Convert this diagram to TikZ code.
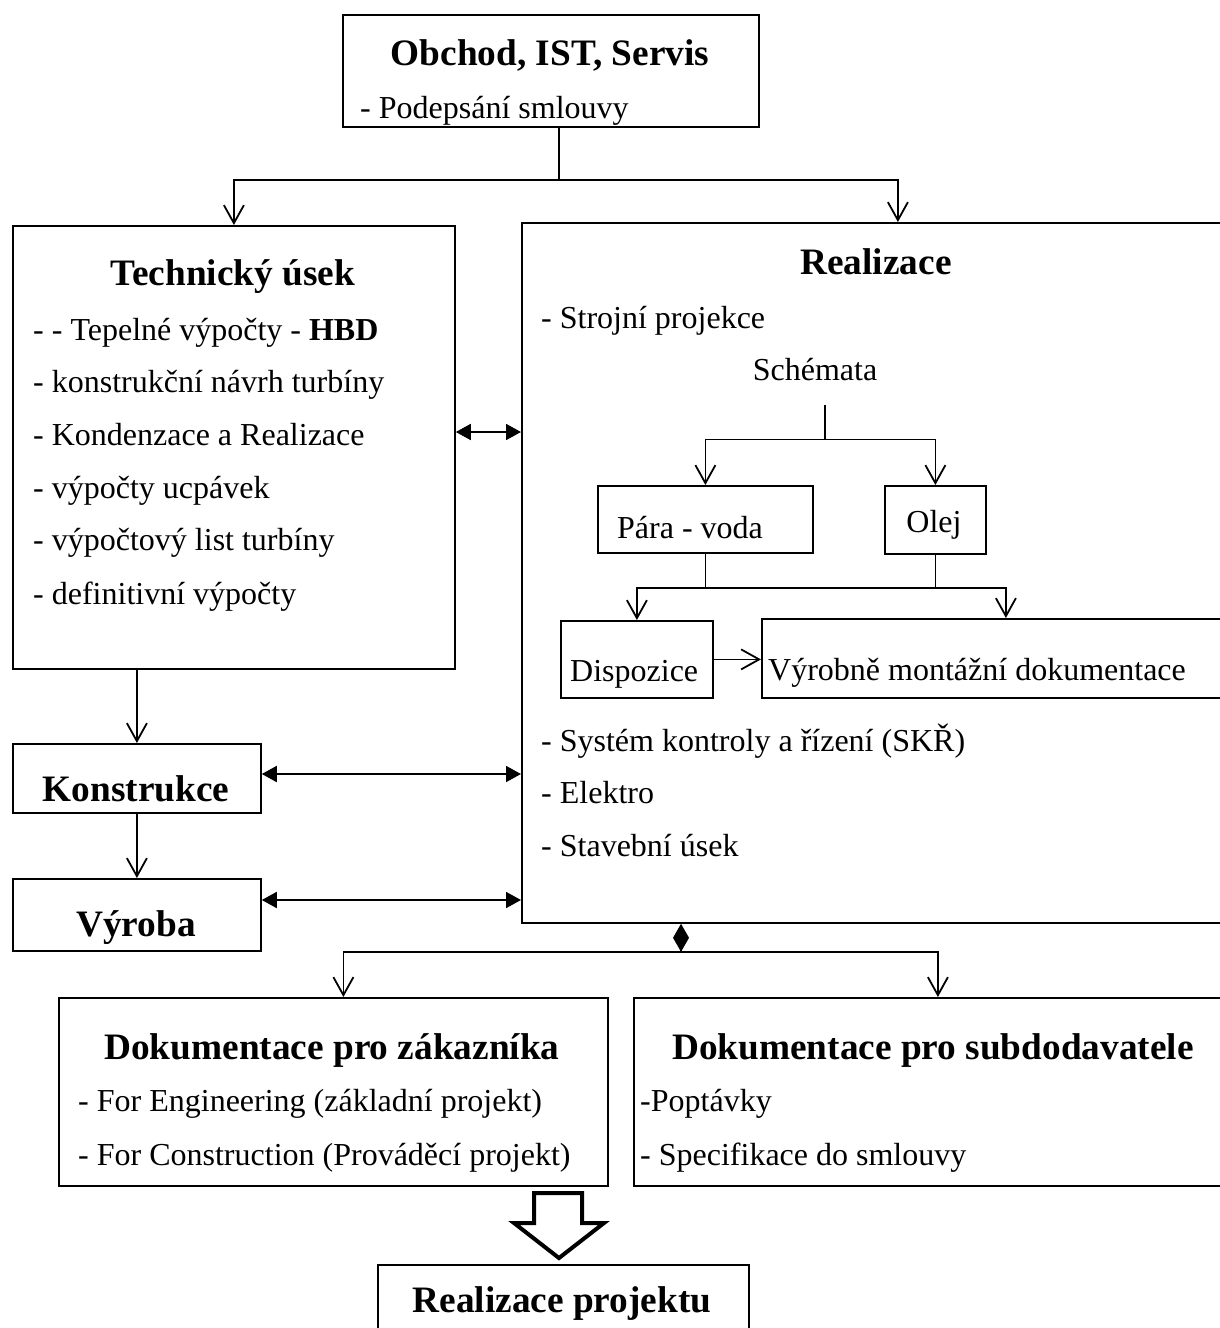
\documentclass[tikz,border=0pt]{standalone}
\usepackage{fontspec}
\setmainfont{Liberation Serif}
\usetikzlibrary{arrows.meta}
\tikzset{
  box/.style={draw, line width=1.8pt, inner sep=0pt, anchor=north west},
  item/.style={font=\fontsize{32}{36}\selectfont, inner sep=0pt, anchor=base west},
  label/.style={item, anchor=base},
  head/.style={font=\fontsize{37.3}{42}\selectfont\bfseries, inner sep=0pt, anchor=base},
  line/.style={line width=1.8pt},
  open/.style={line, -{Straight Barb[length=18pt,width=20pt]}},
  both/.style={line, {Triangle[length=15pt,width=16pt]}-{Triangle[length=15pt,width=16pt]}},
}
\begin{document}
\begin{tikzpicture}[x=1pt,y=-1pt]
            \useasboundingbox (0,0) rectangle (1220,1328);
            \clip (0,0) rectangle (1220,1328);
            % boxes
            \node[box, minimum width=416pt, minimum height=112pt] (obchod) at (342,14) {};
            \node[box, minimum width=442pt, minimum height=443pt] (tech) at (12,225) {};
            \node[box, minimum width=752pt, minimum height=700pt] (real) at (521,222) {};
            \node[box, minimum width=248pt, minimum height=69pt] (kon) at (12,743) {};
            \node[box, minimum width=248pt, minimum height=72pt] (vyr) at (12,878) {};
            \node[box, minimum width=215pt, minimum height=67pt] (para) at (597,485) {};
            \node[box, minimum width=101pt, minimum height=68pt] (olej) at (884,485) {};
            \node[box, minimum width=152pt, minimum height=77pt] (disp) at (560,620) {};
            \node[box, minimum width=488pt, minimum height=79pt] (vyrd) at (761,618) {};
            \node[box, minimum width=549pt, minimum height=188pt] (dokz) at (58,997) {};
            \node[box, minimum width=608pt, minimum height=188pt] (doks) at (633,997) {};
            \node[box, minimum width=371pt, minimum height=100pt] (proj) at (377,1264) {};
            % texts
            \node[head] (obchodT) at (550,65) {Obchod, IST, Servis};
            \node[item] (obchod1) at (360,118) {- Podepsání smlouvy};
            \node[head] (techT) at (233,285) {Technický úsek};
            \node[item] (tech1) at (33,340) {- - Tepelné výpočty - \textbf{HBD}};
            \node[item] (tech2) at (33,392) {- konstrukční návrh turbíny};
            \node[item] (tech3) at (33,445) {- Kondenzace a Realizace};
            \node[item] (tech4) at (33,498) {- výpočty ucpávek};
            \node[item] (tech5) at (33,550) {- výpočtový list turbíny};
            \node[item] (tech6) at (33,604) {- definitivní výpočty};
            \node[head] (realT) at (876,274) {Realizace};
            \node[item] (real1) at (541,328) {- Strojní projekce};
            \node[label] (schem) at (815,380) {Schémata};
            \node[item] (parat) at (617,538) {Pára - voda};
            \node[label] (olejt) at (934,532) {Olej};
            \node[item] (dispt) at (570,681) {Dispozice};
            \node[item] (vyrdt) at (768,680) {Výrobně montážní dokumentace};
            \node[item] (real2) at (541,751) {- Systém kontroly a řízení (SKŘ)};
            \node[item] (real3) at (541,803) {- Elektro};
            \node[item] (real4) at (541,856) {- Stavební úsek};
            \node[head] (konT) at (136,801) {Konstrukce};
            \node[head] (vyrT) at (136,936) {Výroba};
            \node[head] (dokzT) at (332,1059) {Dokumentace pro zákazníka};
            \node[item] (dokz1) at (78,1111) {- For Engineering (základní projekt)};
            \node[item] (dokz2) at (78,1165) {- For Construction (Prováděcí projekt)};
            \node[head] (doksT) at (933,1059) {Dokumentace pro subdodavatele};
            \node[item] (doks1) at (640,1111) {-Poptávky};
            \node[item] (doks2) at (640,1165) {- Specifikace do smlouvy};
            \node[head] (projT) at (562,1312) {Realizace projektu};
            % connectors
            \draw[line] ([xshift=8pt]obchod.south) -- ++(0,52) coordinate (s1);
            \draw[open] (s1) -| (tech.north);
            \draw[open] (s1) -| (real.north);
            \draw[both] (tech.east |- 0,432) -- (real.west |- 0,432);
            \draw[open] (tech.south -| kon.north) -- (kon.north);
            \draw[open] (kon.south) -- (vyr.north);
            \draw[both] (kon.east |- 0,774) -- (real.west |- 0,774);
            \draw[both] (vyr.east |- 0,900) -- (real.west |- 0,900);
            \draw[line] ([xshift=10pt,yshift=-24pt]schem.south) -- ++(0,35) coordinate (s2);
            \draw[open] (s2) -| (para.north);
            \draw[open] (s2) -| (olej.north);
            \draw[line] (para.south) -- ++(0,34) coordinate (s3);
            \draw[line] (olej.south) -- (olej.south |- s3);
            \draw[open] (s3) -| (disp.north);
            \draw[open] (s3) -| (vyrd.north);
            \draw[open] (disp.east) -- (vyrd.west |- disp.east);
            \draw[line, {Diamond[length=28pt,width=16pt]}-] (real.south -| 681,0) -- ++(0,28) coordinate (s4);
            \draw[open] (s4) -| ([xshift=10pt]dokz.north);
            \draw[open] (s4) -| (doks.north);
            \draw[line width=4pt, line join=miter] (534,1193) -- (582,1193) -- (582,1223) -- (604,1223)
                -- (559,1258) -- (514,1223) -- (534,1223) -- cycle;
        \end{tikzpicture}
\end{document}
